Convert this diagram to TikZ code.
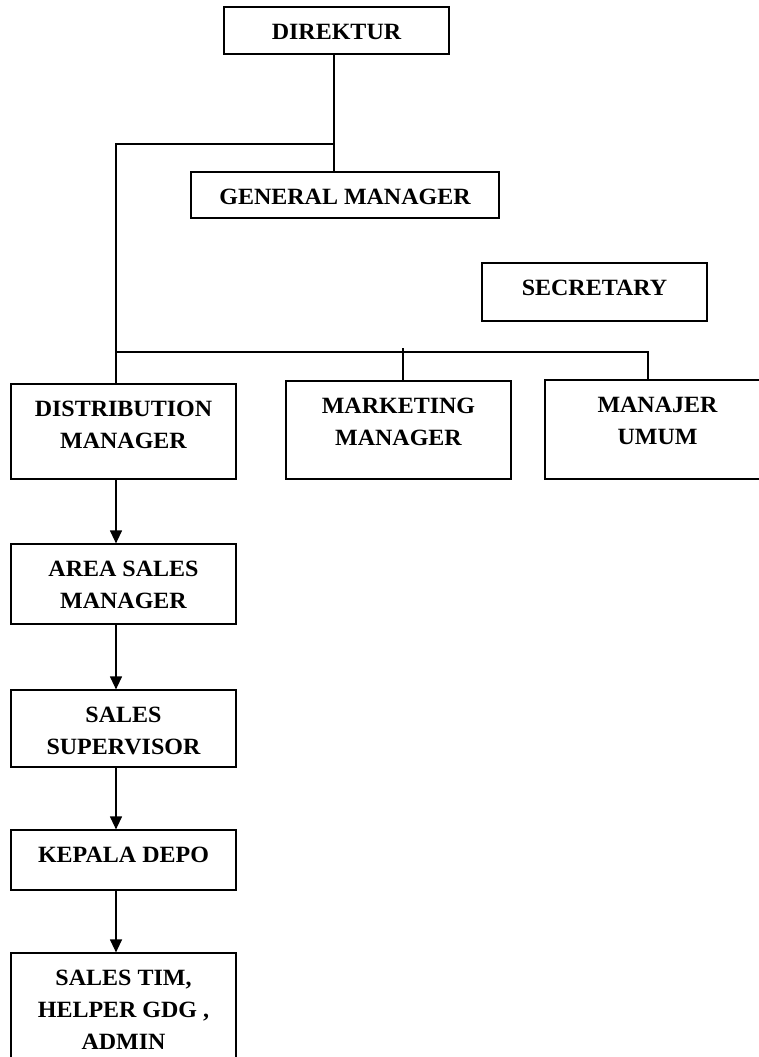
\documentclass[tikz,border=0pt]{standalone}
\usepackage{fontspec}
\setmainfont{Liberation Serif}[FakeStretch=1.03]
\usetikzlibrary{arrows.meta}
\begin{document}
\begin{tikzpicture}[x=1pt,y=-1pt,
  box/.style={draw, line width=1.2pt, rectangle, inner sep=0pt, minimum width=225pt},
  lbl/.style={anchor=base, inner sep=0pt, yshift=-33pt, font=\fontsize{23.3}{32}\selectfont\bfseries},
  conn/.style={line width=1.2pt},
  arr/.style={conn, -{Triangle[length=13pt,width=12pt]}}]
\useasboundingbox (0,0) rectangle (759,1057);
% boxes
\node[box, minimum height=47pt] (dir) at (336.5,30.5) {};
\node[box, minimum width=308pt, minimum height=46pt] (gm) at (345,195) {};
\node[box, minimum height=58pt] (sec) at (594.5,292) {};
\node[box, minimum height=95pt] (dist) at (123.5,431.5) {};
\node[box, minimum height=98pt] (mkt) at (398.5,430) {};
\node[box, minimum height=99pt] (mu) at (657.5,429.5) {};
\node[box, minimum height=80pt] (asm) at (123.5,584) {};
\node[box, minimum height=77pt] (ss) at (123.5,728.5) {};
\node[box, minimum height=60pt] (kd) at (123.5,860) {};
\node[box, minimum height=134pt] (st) at (123.5,1020) {};
% labels
\node[lbl] (tdir) at (dir.north) {DIREKTUR};
\node[lbl] (tgm) at (gm.north) {GENERAL MANAGER};
\node[lbl] (tsec) at (sec.north) {SECRETARY};
\node[lbl] (tdist) at (dist.north) {\begin{tabular}[t]{@{}c@{}}DISTRIBUTION\\MANAGER\end{tabular}};
\node[lbl] (tmkt) at (mkt.north) {\begin{tabular}[t]{@{}c@{}}MARKETING\\MANAGER\end{tabular}};
\node[lbl] (tmu) at (mu.north) {\begin{tabular}[t]{@{}c@{}}MANAJER\\UMUM\end{tabular}};
\node[lbl] (tasm) at (asm.north) {\begin{tabular}[t]{@{}c@{}}AREA SALES\\MANAGER\end{tabular}};
\node[lbl] (tss) at (ss.north) {\begin{tabular}[t]{@{}c@{}}SALES\\SUPERVISOR\end{tabular}};
\node[lbl] (tkd) at (kd.north) {KEPALA DEPO};
\node[lbl] (tst) at (st.north) {\begin{tabular}[t]{@{}c@{}}SALES TIM,\\HELPER GDG ,\\ADMIN\end{tabular}};
% junctions
\coordinate (j1) at (334,144);
\coordinate (j2) at (116,352);
\coordinate (bm) at (403,352);
\coordinate (bu) at (648,352);
% connectors
\draw[conn] (j1 |- dir.south) -- (j1 |- gm.north);
\draw[conn] (j1) -- (j1 -| j2) -- (j2 |- dist.north);
\draw[conn] (j2) -- (bu) -- (bu |- mu.north);
\draw[conn] ([yshift=4pt]bm) -- (bm |- mkt.north);
\draw[arr] (j2 |- dist.south) -- (j2 |- asm.north);
\draw[arr] (j2 |- asm.south) -- (j2 |- ss.north);
\draw[arr] (j2 |- ss.south) -- (j2 |- kd.north);
\draw[arr] (j2 |- kd.south) -- (j2 |- st.north);
\end{tikzpicture}
\end{document}
